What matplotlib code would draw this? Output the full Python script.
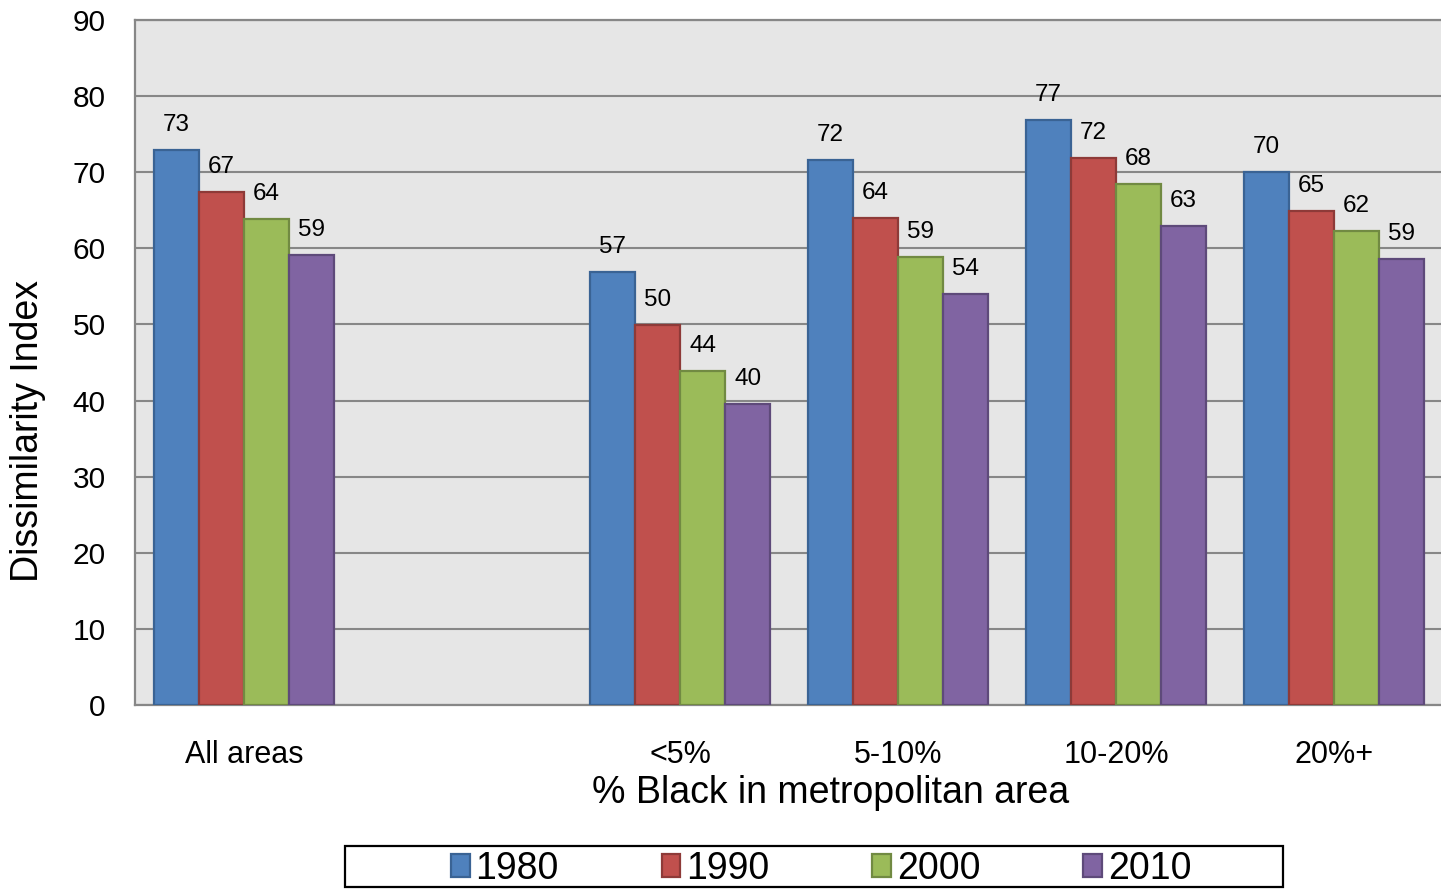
import numpy as np
import matplotlib.pyplot as plt
from matplotlib.patches import Rectangle

# ---------------------------
# data
# ---------------------------
groups = ["All areas", "", "<5%", "5-10%", "10-20%", "20%+"]
years = ["1980", "1990", "2000", "2010"]

v1980 = [72.9, np.nan, 56.9, 71.6, 76.9, 70.0]
v1990 = [67.4, np.nan, 49.9, 64.0, 71.9, 64.9]
v2000 = [63.9, np.nan, 43.9, 58.9, 68.4, 62.3]
v2010 = [59.1, np.nan, 39.6, 54.0, 62.9, 58.6]

fills = ["#4F81BD", "#C0504D", "#9BBB59", "#8064A2"]
edges = ["#3A6394", "#8E3A38", "#718A42", "#5E4A7A"]

plt.rcParams['font.family'] = ['Liberation Sans', 'DejaVu Sans']

fig = plt.figure(figsize=(14.41, 8.89), dpi=100)
ax = fig.add_axes([0.0937, 0.2070, 0.9077, 0.7705])
ax.set_facecolor("#E6E6E6")

x = np.arange(len(groups))
w = 0.207
series = [v1980, v1990, v2000, v2010]

for i, vals in enumerate(series):
    xs = x + (i - 1.5) * w
    ax.bar(xs, vals, width=w, color=fills[i], edgecolor=edges[i],
           linewidth=1.6, label=years[i], zorder=3)
    for xi, v in zip(xs, vals):
        if np.isnan(v):
            continue
        ax.annotate(f"{v:.0f}", (xi, v), xytext=(0, 18),
                    textcoords="offset points", ha="center", va="center",
                    fontsize=17.5, zorder=4)

ax.set_xlim(-0.5, 5.5)
ax.set_ylim(0, 90)
ax.set_yticks(range(0, 91, 10))
ax.set_xticks(x)
ax.set_xticklabels(groups)
ax.tick_params(axis="y", length=0, pad=21, labelsize=21.5)
ax.tick_params(axis="x", length=0, pad=25, labelsize=22)

ax.grid(axis="y", color="#878787", linewidth=1.5, zorder=1)
for s in ["left", "bottom", "top"]:
    ax.spines[s].set_color("#878787")
    ax.spines[s].set_linewidth(1.6)
ax.spines["right"].set_visible(False)

ax.set_xlabel("% Black in metropolitan area", fontsize=27, va="center")
ax.xaxis.set_label_coords(0.532, -0.128)
ax.set_ylabel("Dissimilarity Index", fontsize=27, va="center")
ax.yaxis.set_label_coords(-0.0818, 0.40)

# legend box drawn separately, entries centred inside it
fig.patches.append(Rectangle((345 / 1441, 1 - 887 / 889), 938 / 1441, 41 / 889,
                             transform=fig.transFigure, facecolor="white",
                             edgecolor="black", linewidth=1.6, zorder=0))
fig.legend(loc="center", ncol=4, bbox_to_anchor=(821 / 1441, 1 - 869 / 889),
           fontsize=27, handlelength=0.5, handleheight=0.55,
           handletextpad=0.15, columnspacing=2.75, borderpad=0,
           frameon=False)

fig.savefig("out.png", dpi=100)
